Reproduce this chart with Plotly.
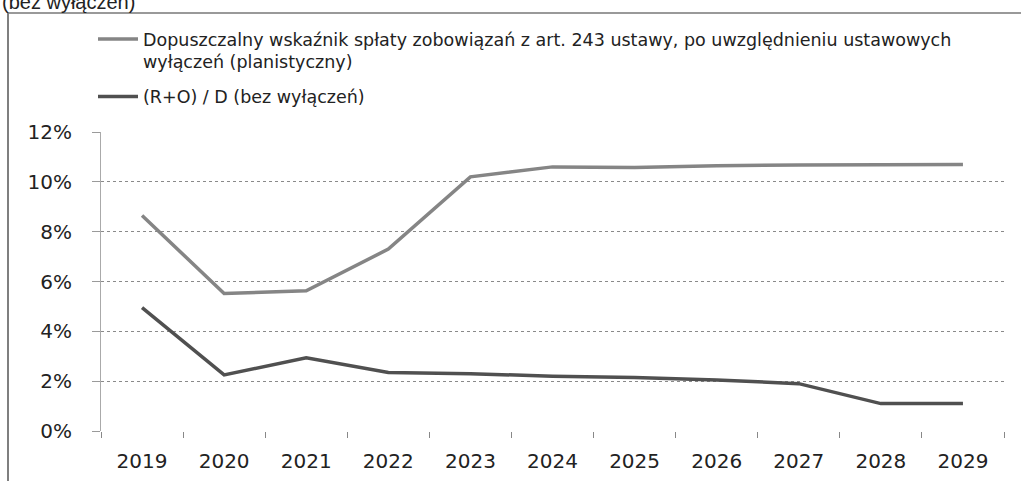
import plotly.graph_objects as go

years = ["2019", "2020", "2021", "2022", "2023", "2024", "2025", "2026", "2027", "2028", "2029"]
limit_values = [8.65, 5.52, 5.63, 7.3, 10.2, 10.6, 10.58, 10.65, 10.68, 10.7, 10.7]
ratio_values = [4.95, 2.25, 2.94, 2.35, 2.3, 2.2, 2.15, 2.05, 1.9, 1.1, 1.1]
limit_name = "Dopuszczalny wskaźnik spłaty zobowiązań z art. 243 ustawy, po uwzględnieniu ustawowych<br>wyłączeń (planistyczny)"
ratio_name = "(R+O) / D (bez wyłączeń)"
y_ticks = [0, 2, 4, 6, 8, 10, 12]
y_tick_labels = ["0%", "2%", "4%", "6%", "8%", "10%", "12%"]

W, H = 1021, 481
L, R, T, B = 101, 17, 132, 50
pw, ph = W - L - R, H - T - B

def px(x):
    return (x - L) / pw

def py(y):
    return (H - B - y) / ph

fig = go.Figure()
fig.add_trace(go.Scatter(x=years, y=limit_values, mode="lines", name=limit_name,
                         legendgroup="a", line=dict(color="#858585", width=3.5)))
fig.add_trace(go.Scatter(x=years, y=ratio_values, mode="lines", name=ratio_name,
                         legendgroup="b", line=dict(color="#505050", width=3.5)))

fig.update_layout(
    width=W, height=H,
    margin=dict(l=L, r=R, t=T, b=B, autoexpand=False),
    paper_bgcolor="white", plot_bgcolor="white",
    font=dict(family="DejaVu Sans", color="#222"),
    showlegend=True,
    legend=dict(x=px(93), y=py(21), xanchor="left", yanchor="top",
                font=dict(size=17.5, family="DejaVu Sans", color="#222"),
                bgcolor="rgba(0,0,0,0)", tracegroupgap=9, itemwidth=40,
                valign="top"),
    xaxis=dict(type="category", range=[-0.5, 10.5], showgrid=False, showline=False,
               automargin=False,
               ticks="outside", tickson="boundaries", ticklen=6, tickcolor="#888",
               ticklabelstandoff=16,
               tickfont=dict(size=20, family="DejaVu Sans", color="#222"),
               zeroline=False),
    yaxis=dict(range=[0, 12], tickvals=y_ticks, ticktext=y_tick_labels,
               automargin=False,
               showgrid=True, gridcolor="#8a8a8a", griddash="dot", gridwidth=1,
               showline=True, linecolor="#aaa", linewidth=1,
               ticks="outside", ticklen=8, tickcolor="#9a9a9a",
               ticklabelstandoff=16,
               tickfont=dict(size=20, family="DejaVu Sans", color="#222"),
               zeroline=False),
    shapes=[
        dict(type="line", xref="paper", yref="paper", x0=px(8), x1=px(8), y0=py(13), y1=py(481),
             line=dict(color="#555", width=1.5)),
        dict(type="line", xref="paper", yref="paper", x0=px(8), x1=px(1021), y0=py(13), y1=py(13),
             line=dict(color="#777", width=1.5)),
    ],
    annotations=[
        dict(text="(bez wyłączeń)", xref="paper", yref="paper", x=px(0), y=py(15),
             xanchor="left", yanchor="bottom", showarrow=False,
             font=dict(size=20, family="Liberation Sans", color="#222")),
    ],
)

fig.write_html("out.html", config={"displayModeBar": False},
               post_script="document.body.style.margin='0';document.body.style.overflow='hidden';")
